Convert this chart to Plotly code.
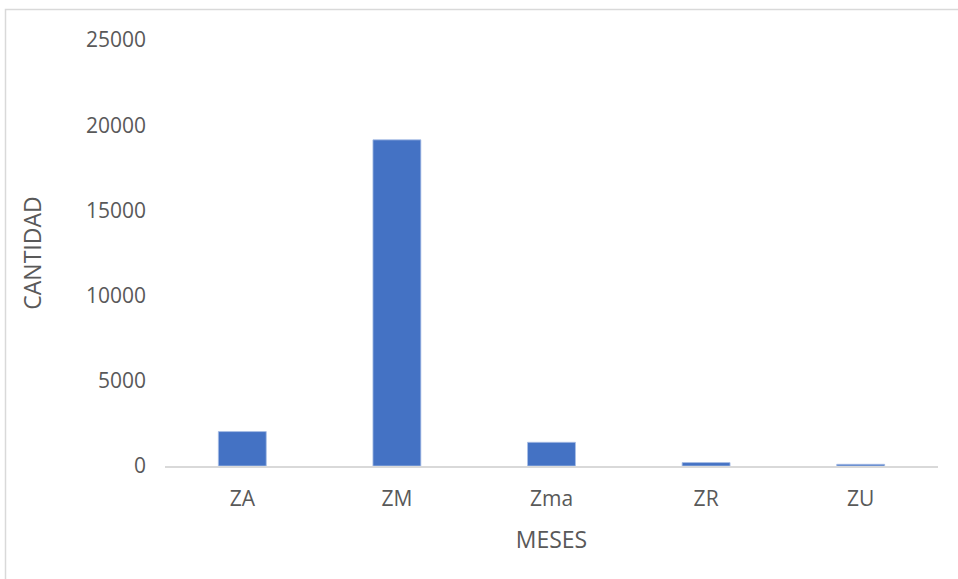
import plotly.graph_objects as go

# Datos del gráfico
categorias = ["ZA", "ZM", "Zma", "ZR", "ZU"]
cantidades = [2020, 19140, 1390, 200, 100]
ticks_y = [0, 5000, 10000, 15000, 20000, 25000]

W, H = 958, 579
ML, MR, MT, MB = 165, 20, 40, 112.5
pw = W - ML - MR
ph = H - MT - MB

texto = "#595959"
fuente = "Open Sans"

fig = go.Figure(
    go.Bar(
        x=categorias,
        y=cantidades,
        marker=dict(color="#4472C4", line=dict(color="#A9BFE6", width=0.8)),
        width=0.31,
    )
)

fig.update_layout(
    width=W,
    height=H,
    margin=dict(l=ML, r=MR, t=MT, b=MB),
    paper_bgcolor="white",
    plot_bgcolor="white",
    showlegend=False,
    font=dict(family=fuente, color=texto, size=21),
    xaxis=dict(
        showline=True,
        linecolor="#D9D9D9",
        linewidth=1.5,
        ticks="",
        showgrid=False,
        tickfont=dict(size=21, color=texto),
        ticklabelstandoff=13,
        title=dict(text="MESES", font=dict(size=23, color=texto), standoff=21),
    ),
    yaxis=dict(
        range=[0, 25000],
        tickvals=ticks_y,
        ticktext=[str(v) for v in ticks_y],
        showline=False,
        showgrid=False,
        zeroline=False,
        ticks="",
        tickfont=dict(size=21, color=texto),
        ticklabelstandoff=18,
        title=dict(text="CANTIDAD", font=dict(size=23, color=texto), standoff=37),
    ),
    shapes=[
        # marco exterior del gráfico
        dict(
            type="rect",
            xref="paper",
            yref="paper",
            x0=(5.5 - ML) / pw,
            x1=(W + 10 - ML) / pw,
            y0=-(H + 10 - MT - ph) / ph,
            y1=1 + (MT - 9.5) / ph,
            line=dict(color="#D9D9D9", width=1.5),
            fillcolor="rgba(0,0,0,0)",
            layer="below",
        )
    ],
)

fig.write_html("out.html")
